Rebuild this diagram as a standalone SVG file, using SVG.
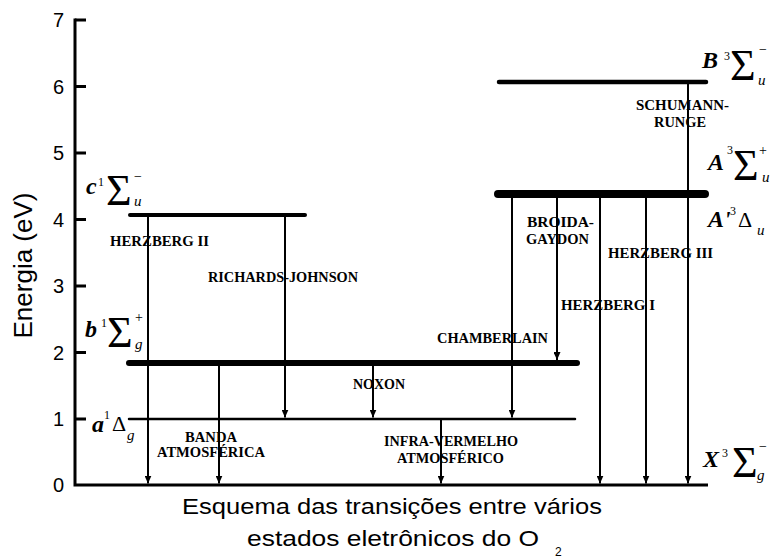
<svg xmlns="http://www.w3.org/2000/svg" width="772" height="560" viewBox="0 0 772 560">
<style>
.ax{stroke:#000;stroke-width:3;fill:none}
.lvl{stroke:#000;stroke-linecap:round;fill:none}
.tr{stroke:#000;stroke-width:2;fill:none;marker-end:url(#ah)}
.num{font-family:"Liberation Sans",Arial,sans-serif;font-size:20px;text-anchor:end;fill:#000}
.lab{font-family:"Liberation Serif","Times New Roman",serif;font-size:14px;font-weight:bold;fill:#000}
.st{font-family:"Liberation Serif","Times New Roman",serif;font-size:24px;font-weight:bold;font-style:italic;fill:#000}
.sg{font-family:"Liberation Serif","Times New Roman",serif;font-size:44px;fill:#000}
.dl{font-family:"Liberation Serif","Times New Roman",serif;font-size:22px;fill:#000}
.sp{font-family:"Liberation Serif","Times New Roman",serif;font-size:12px;fill:#000}
.sb{font-family:"Liberation Serif","Times New Roman",serif;font-size:15px;font-style:italic;fill:#000}
.pm{font-family:"Liberation Serif","Times New Roman",serif;font-size:14px;fill:#000}
.cap{font-family:"Liberation Sans",Arial,sans-serif;font-size:22px;fill:#000}
</style>
<defs>
<marker id="ah" markerUnits="userSpaceOnUse" markerWidth="8" markerHeight="7" refX="8" refY="3.5" orient="auto">
<path d="M0,0 L8,3.5 L0,7 z" fill="#000"/>
</marker>
</defs>
<g id="axes">
<path class="ax" d="M75,18.5 V486.5 M73.5,485 H708"/>
<path class="ax" d="M75,20 H86 M75,86.5 H86 M75,153 H86 M75,219.5 H86 M75,286 H86 M75,352.5 H86 M75,419 H86"/>
<text class="num" x="64" y="27">7</text>
<text class="num" x="64" y="93.5">6</text>
<text class="num" x="64" y="160">5</text>
<text class="num" x="64" y="226.5">4</text>
<text class="num" x="64" y="293">3</text>
<text class="num" x="64" y="359.5">2</text>
<text class="num" x="64" y="426">1</text>
<text class="num" x="64" y="492">0</text>
<text font-family="Liberation Sans, Arial, sans-serif" font-size="26" text-anchor="middle" transform="translate(32,265.5) rotate(-90)">Energia (eV)</text>
</g>
<g id="state-c">
<line class="lvl" x1="130" y1="215" x2="305" y2="215" stroke-width="4"/>
<text class="st" x="86" y="194">c</text>
<text class="sp" x="98" y="186">1</text>
<text class="sg" x="106" y="205">Σ</text>
<text class="pm" x="134" y="181">−</text>
<text class="sb" x="134" y="206">u</text>
</g>
<g id="state-b">
<line class="lvl" x1="129" y1="363" x2="577" y2="363" stroke-width="6"/>
<text class="st" x="85" y="337">b</text>
<text class="sp" x="101" y="327">1</text>
<text class="sg" x="107" y="347">Σ</text>
<text class="pm" x="135" y="322">+</text>
<text class="sb" x="135" y="349">g</text>
</g>
<g id="state-a">
<line class="lvl" x1="129" y1="419" x2="575" y2="419" stroke-width="2.5"/>
<text class="st" x="92" y="432">a</text>
<text class="sp" x="104" y="419">1</text>
<text class="dl" x="112" y="431">Δ</text>
<text class="sb" x="127" y="440">g</text>
</g>
<g id="state-B">
<line class="lvl" x1="499" y1="82" x2="706" y2="82" stroke-width="4.5"/>
<text class="st" x="702" y="68">B</text>
<text class="sp" x="724" y="60">3</text>
<text class="sg" x="730" y="80">Σ</text>
<text class="pm" x="759" y="54">−</text>
<text class="sb" x="758" y="85">u</text>
</g>
<g id="state-A">
<line class="lvl" x1="498" y1="194" x2="705" y2="194" stroke-width="8"/>
<text class="st" x="708" y="170">A</text>
<text class="sp" x="727" y="154">3</text>
<text class="sg" x="733" y="180">Σ</text>
<text class="pm" x="759" y="155">+</text>
<text class="sb" x="762" y="182">u</text>
<text class="st" x="708" y="227">A'</text>
<text class="sp" x="730" y="215">3</text>
<text class="dl" x="738" y="227">Δ</text>
<text class="sb" x="757" y="235">u</text>
</g>
<g id="state-X">
<text class="st" x="703" y="467">X</text>
<text class="sp" x="722" y="457">3</text>
<text class="sg" x="732" y="477">Σ</text>
<text class="pm" x="759" y="451">−</text>
<text class="sb" x="757" y="480">g</text>
</g>
<g id="connectors">
<line class="tr" x1="148" y1="215" x2="148" y2="483.5"/>
<line class="tr" x1="285" y1="215" x2="285" y2="417.5"/>
<line class="tr" x1="219" y1="363" x2="219" y2="483.5"/>
<line class="tr" x1="373" y1="363" x2="373" y2="417.5"/>
<line class="tr" x1="441" y1="419" x2="441" y2="483.5"/>
<line class="tr" x1="512" y1="194" x2="512" y2="417.5"/>
<line class="tr" x1="557" y1="194" x2="557" y2="360"/>
<line class="tr" x1="600" y1="194" x2="600" y2="483.5"/>
<line class="tr" x1="646" y1="194" x2="646" y2="483.5"/>
<line class="tr" x1="688" y1="82" x2="688" y2="483.5"/>
</g>
<g id="labels">
<text class="lab" x="110" y="246" textLength="99" lengthAdjust="spacingAndGlyphs">HERZBERG II</text>
<text class="lab" x="208" y="282" textLength="150" lengthAdjust="spacingAndGlyphs">RICHARDS-JOHNSON</text>
<text class="lab" x="185" y="442" textLength="52" lengthAdjust="spacingAndGlyphs">BANDA</text>
<text class="lab" x="157" y="457" textLength="108" lengthAdjust="spacingAndGlyphs">ATMOSFÉRICA</text>
<text class="lab" x="353" y="389" textLength="52" lengthAdjust="spacingAndGlyphs">NOXON</text>
<text class="lab" x="437" y="343" textLength="111" lengthAdjust="spacingAndGlyphs">CHAMBERLAIN</text>
<text class="lab" x="384" y="446" textLength="134" lengthAdjust="spacingAndGlyphs">INFRA-VERMELHO</text>
<text class="lab" x="397" y="463" textLength="107" lengthAdjust="spacingAndGlyphs">ATMOSFÉRICO</text>
<text class="lab" x="561" y="310" textLength="94" lengthAdjust="spacingAndGlyphs">HERZBERG I</text>
<text class="lab" x="636" y="110" textLength="93" lengthAdjust="spacingAndGlyphs">SCHUMANN-</text>
<text class="lab" x="654" y="127" textLength="52" lengthAdjust="spacingAndGlyphs">RUNGE</text>
<text class="lab" x="527" y="227" textLength="67" lengthAdjust="spacingAndGlyphs">BROIDA-</text>
<text class="lab" x="526" y="244" textLength="63" lengthAdjust="spacingAndGlyphs">GAYDON</text>
<text class="lab" x="608" y="258" textLength="105" lengthAdjust="spacingAndGlyphs">HERZBERG III</text>
</g>
<g id="caption">
<text class="cap" x="182" y="514" textLength="420" lengthAdjust="spacingAndGlyphs">Esquema das transições entre vários</text>
<text class="cap" x="247" y="546" textLength="292" lengthAdjust="spacingAndGlyphs">estados eletrônicos do O</text>
<text font-family="Liberation Sans, Arial, sans-serif" font-size="12" x="555" y="556">2</text>
</g>
</svg>
